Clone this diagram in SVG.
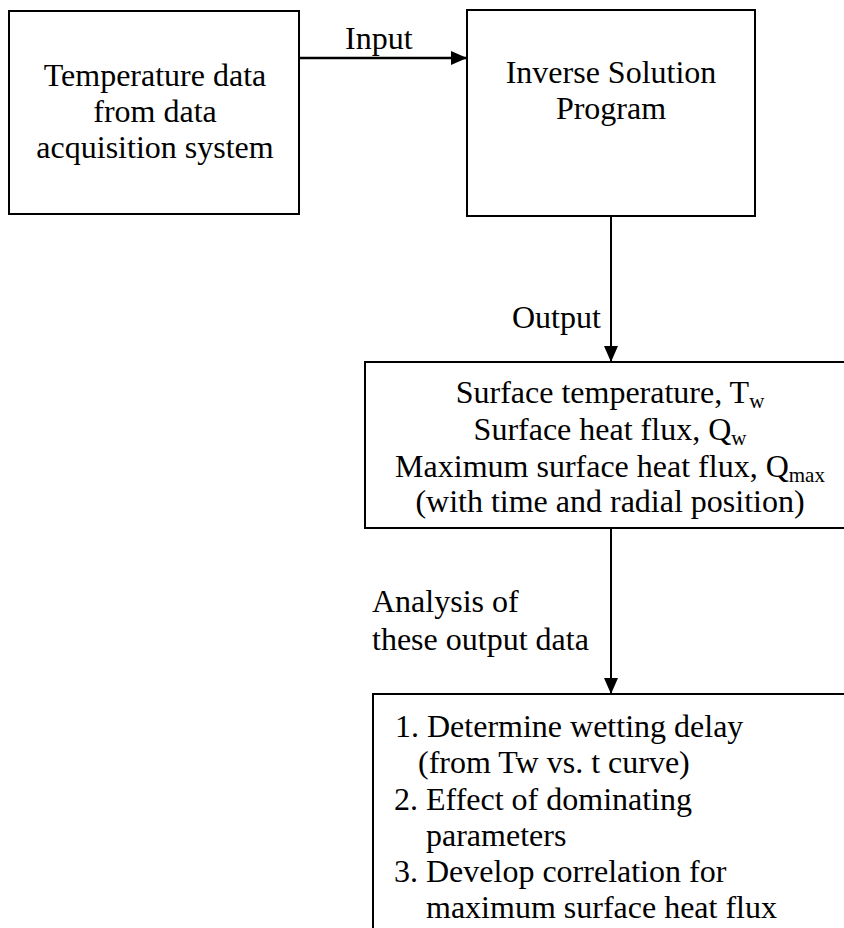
<svg xmlns="http://www.w3.org/2000/svg" width="844" height="928" viewBox="0 0 844 928">
<style>
.box{fill:#fff;stroke:#000;stroke-width:2}
text{font-family:'Liberation Serif','Times New Roman',Tinos,'DejaVu Serif',serif;font-size:32px;fill:#000}
.c{text-anchor:middle}
.sub{font-size:21px}
.line{stroke:#000;stroke-width:2;fill:none}
</style>
<defs>
<marker id="ah" markerUnits="userSpaceOnUse" markerWidth="16" markerHeight="14" refX="16" refY="7" orient="auto">
<path d="M0,0 L16,7 L0,14 z" fill="#000"/>
</marker>
</defs>
<rect width="844" height="928" fill="#fff"/>
<g id="connectors" font-family="Liberation Serif, serif">
<line class="line" x1="299" y1="58" x2="467" y2="58" style="stroke-width:2.5" marker-end="url(#ah)"/>
<line class="line" x1="611" y1="216" x2="611" y2="362" marker-end="url(#ah)"/>
<line class="line" x1="611" y1="528" x2="611" y2="694" marker-end="url(#ah)"/>
<text x="345" y="49">Input</text>
<text x="512" y="328">Output</text>
<text x="372" y="612">Analysis of</text>
<text x="372" y="650">these output data</text>
</g>
<g id="node-temperature" font-family="Liberation Serif, serif">
<rect class="box" x="9" y="11" width="290" height="203"/>
<text class="c" x="155" y="86">Temperature data</text>
<text class="c" x="155" y="122">from data</text>
<text class="c" x="155" y="158">acquisition system</text>
</g>
<g id="node-inverse" font-family="Liberation Serif, serif">
<rect class="box" x="467" y="10" width="288" height="206"/>
<text class="c" x="611" y="83">Inverse Solution</text>
<text class="c" x="611" y="119">Program</text>
</g>
<g id="node-output" font-family="Liberation Serif, serif">
<rect class="box" x="365" y="362" width="500" height="166"/>
<text class="c" x="610" y="403">Surface temperature, T<tspan class="sub" dy="5">w</tspan></text>
<text class="c" x="610" y="440">Surface heat flux, Q<tspan class="sub" dy="5">w</tspan></text>
<text class="c" x="610" y="477">Maximum surface heat flux, Q<tspan class="sub" dy="5">max</tspan></text>
<text class="c" x="610" y="512">(with time and radial position)</text>
</g>
<g id="node-analysis" font-family="Liberation Serif, serif">
<rect class="box" x="373" y="694" width="500" height="260"/>
<text x="395" y="737">1. Determine wetting delay</text>
<text x="418" y="773">(from Tw vs. t curve)</text>
<text x="394" y="810">2. Effect of dominating</text>
<text x="426" y="846">parameters</text>
<text x="394" y="882">3. Develop correlation for</text>
<text x="426" y="918">maximum surface heat flux</text>
</g>
</svg>
